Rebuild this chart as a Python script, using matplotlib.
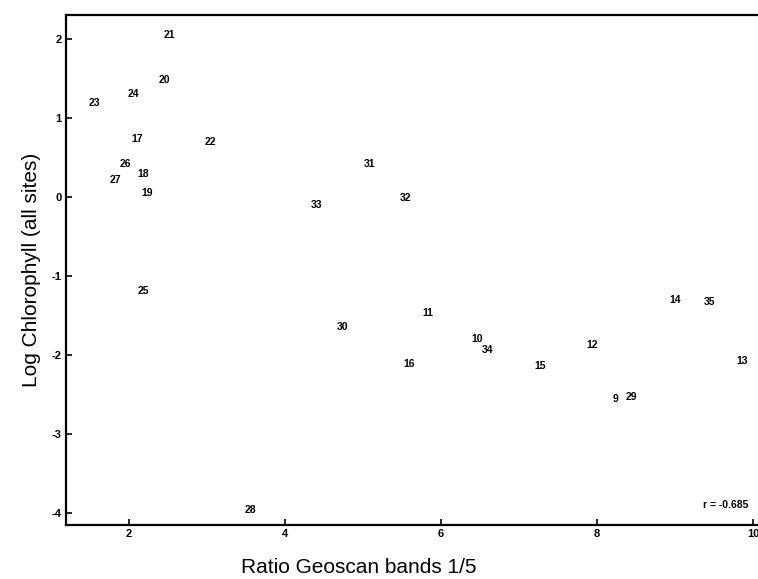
import matplotlib
matplotlib.use("Agg")
import matplotlib.pyplot as plt

labels = ["21", "20", "24", "23", "17", "22", "26", "18", "27", "19", "25",
          "31", "33", "32", "11", "30", "16", "10", "34", "15", "12", "9",
          "29", "14", "35", "13", "28"]
x_vals = [2.51, 2.45, 2.05, 1.56, 2.10, 3.04, 1.95, 2.18, 1.83, 2.23, 2.18,
          5.08, 4.40, 5.54, 5.83, 4.73, 5.59, 6.46, 6.59, 7.27, 7.94, 8.23,
          8.44, 9.00, 9.44, 9.86, 3.56]
y_vals = [2.06, 1.49, 1.31, 1.19, 0.74, 0.70, 0.42, 0.29, 0.22, 0.06, -1.19,
          0.42, -0.10, -0.01, -1.46, -1.64, -2.11, -1.79, -1.93, -2.13, -1.87,
          -2.56, -2.53, -1.30, -1.33, -2.07, -3.96]
x_ticks = [2, 4, 6, 8, 10]
y_ticks = [-4, -3, -2, -1, 0, 1, 2]

plt.rcParams['font.family'] = ['Liberation Sans', 'DejaVu Sans']
fig = plt.figure(figsize=(7.58, 5.79), dpi=100)
ax = fig.add_axes([66/758, 1 - 525/579, (757-66)/758, (525-15)/579])
ax.set_xlim(1.19, 10.05)
ax.set_ylim(-4.15, 2.31)

for lab, xv, yv in zip(labels, x_vals, y_vals):
    ax.text(xv, yv, lab, ha='center', va='center', fontsize=7.5,
            fontweight='bold', color='black')

ax.text(0.955, 0.04, "r = -0.685", transform=ax.transAxes, ha='center',
        va='center', fontsize=7.5, fontweight='bold')

ax.set_xticks(x_ticks)
ax.set_yticks(y_ticks)
ax.set_xticklabels([str(t) for t in x_ticks], fontsize=8, fontweight='bold')
ax.set_yticklabels([str(t) for t in y_ticks], fontsize=8, fontweight='bold')
ax.tick_params(direction='in', length=4, width=1.2, pad=3)
for side in ['left', 'bottom', 'top']:
    ax.spines[side].set_linewidth(1.6)
ax.spines['right'].set_visible(False)

ax.set_xlabel("Ratio Geoscan bands 1/5", fontsize=15)
ax.xaxis.set_label_coords(0.424, -0.065, transform=ax.transAxes)
ax.xaxis.label.set_va('top')
ax.set_ylabel("Log Chlorophyll (all sites)", fontsize=15, labelpad=8)

fig.savefig("out.png", dpi=100)
